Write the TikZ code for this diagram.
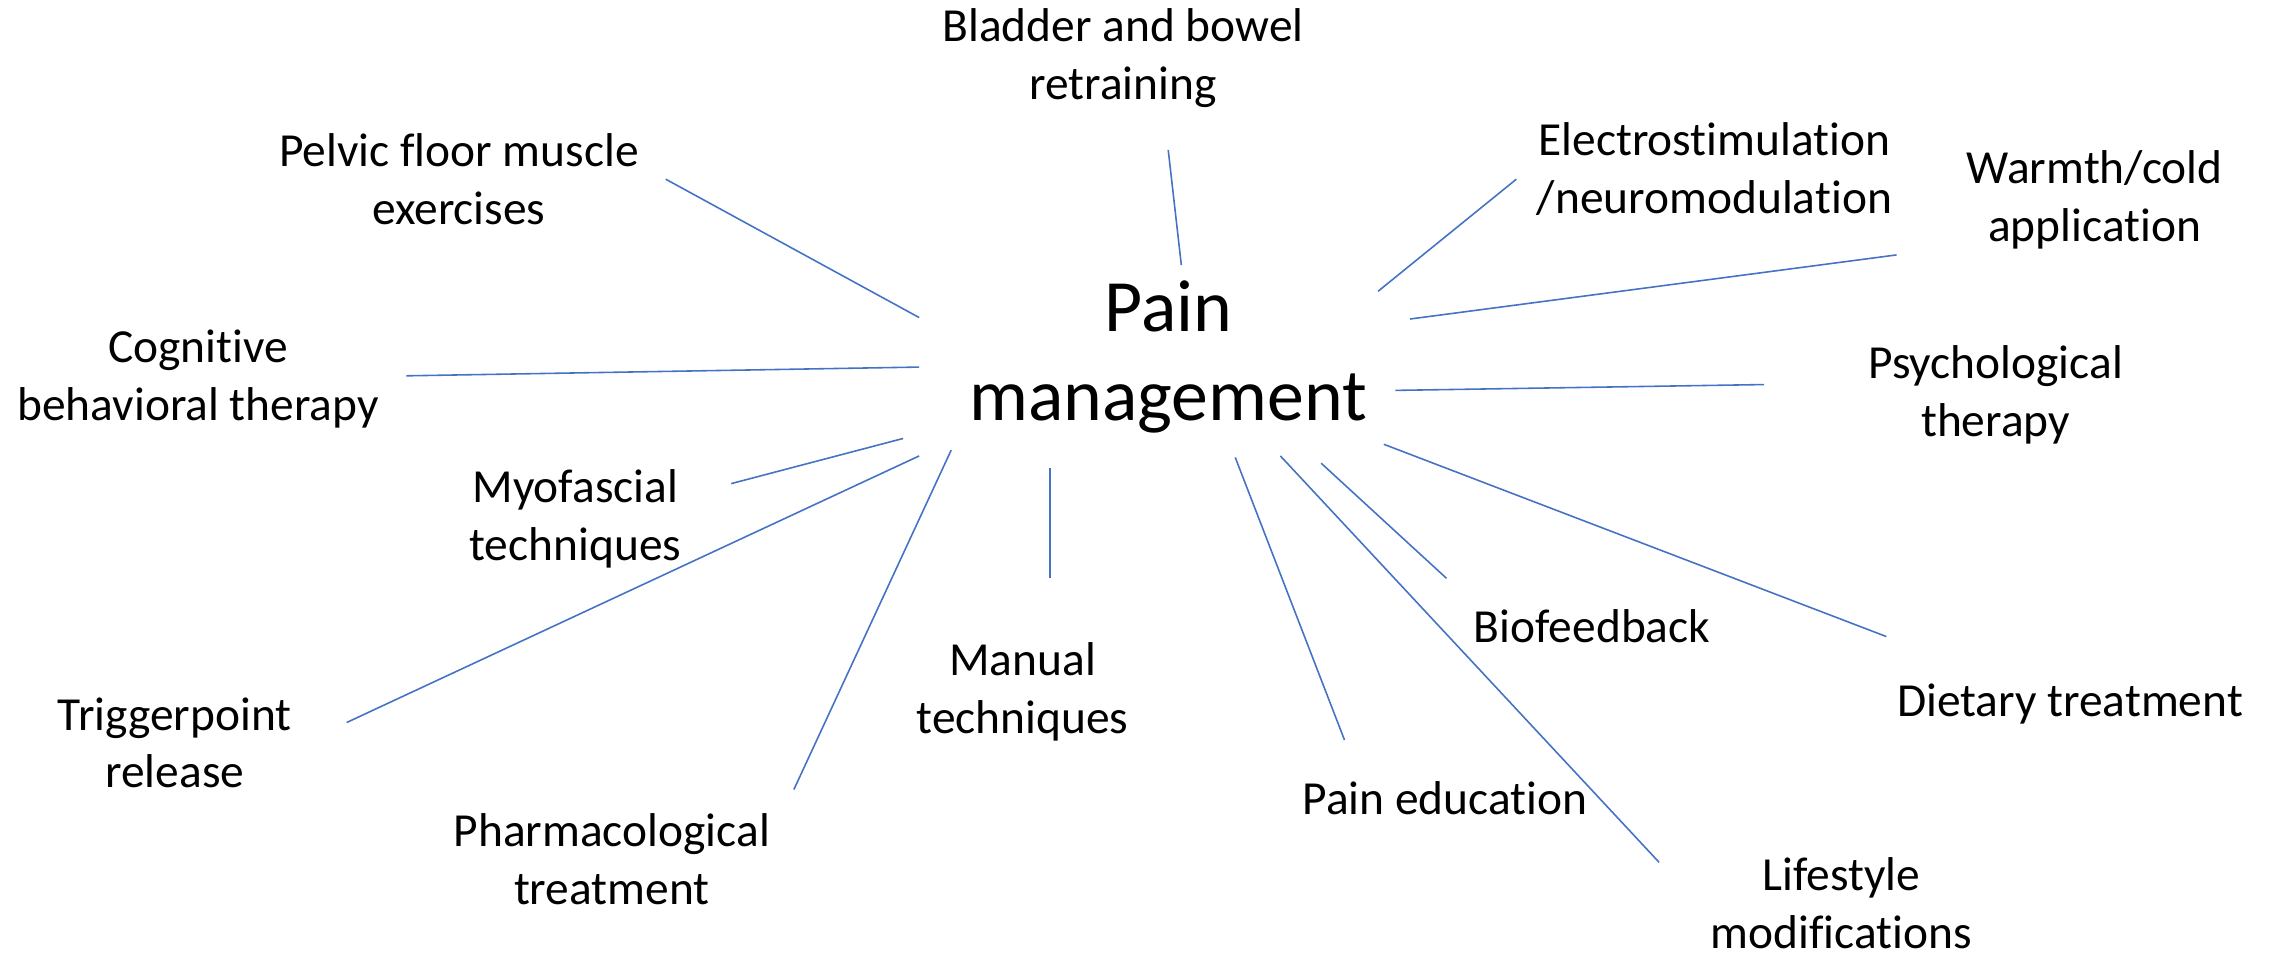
\documentclass[tikz,border=0pt]{standalone}
\usepackage{fontspec}
\setmainfont{Carlito}[Ligatures={NoCommon}]
\usetikzlibrary{positioning}

\begin{document}
\begin{tikzpicture}[x=0.014566cm, y=-0.014566cm,
  item/.style={align=center, inner sep=0, font=\fontsize{13.5}{16.4}\selectfont},
  hub/.style={align=center, inner sep=0, font=\fontsize{21}{25.3}\selectfont},
  spoke/.style={draw={rgb,255:red,68;green,114;blue,196}, line width=0.45pt}]
\useasboundingbox (0,0) rectangle (1568,656);
% centre
\node[hub] (pain) at (802,245) {Pain\\management};
% treatments
\node[item] (bladder) at (771,40)  {Bladder and bowel\\retraining};
\node[item] (pelvic)  at (315,123) {Pelvic floor muscle\\exercises};
\node[item] (electro) at (1177,116) {Electrostimulation\\/neuromodulation};
\node[item] (warmth)  at (1438,137) {Warmth/cold\\application};
\node[item] (cbt)     at (136,260) {Cognitive\\behavioral therapy};
\node[item] (psych)   at (1370,271) {Psychological\\therapy};
\node[item] (myo)     at (395,356) {Myofascial\\techniques};
\node[item] (trigger) at (120,510) {Triggerpoint\\release};
\node[item] (manual)  at (702,475) {Manual\\techniques};
\node[item] (bio)     at (1093,430) {Biofeedback};
\node[item] (diet)    at (1421,483) {Dietary treatment};
\node[item] (educ)    at (992,548) {Pain education};
\node[item] (pharma)  at (420,590) {Pharmacological\\treatment};
\node[item] (life)    at (1264,620) {Lifestyle\\modifications};
% spokes (ends float free of the text)
\foreach \n/\ax/\ay/\bx/\by in {pelvic/457/123/631/218, bladder/802/103/811/182,
    electro/1041/123/946/200, warmth/1302/175/968/219, cbt/279/258/631/252,
    psych/1211/264/958/268, myo/502/332/620/301, trigger/238/496/631/313,
    pharma/545/542/653/309, manual/721/397/721/321, educ/923/508/848/314,
    life/1139/592/879/313, bio/993/397/907/318, diet/1295/437/950/305}{
  \coordinate (\n-out) at (\ax,\ay);
  \coordinate (\n-in)  at (\bx,\by);
  \draw[spoke] (\n-out) -- (\n-in);
}
\end{tikzpicture}
\end{document}
